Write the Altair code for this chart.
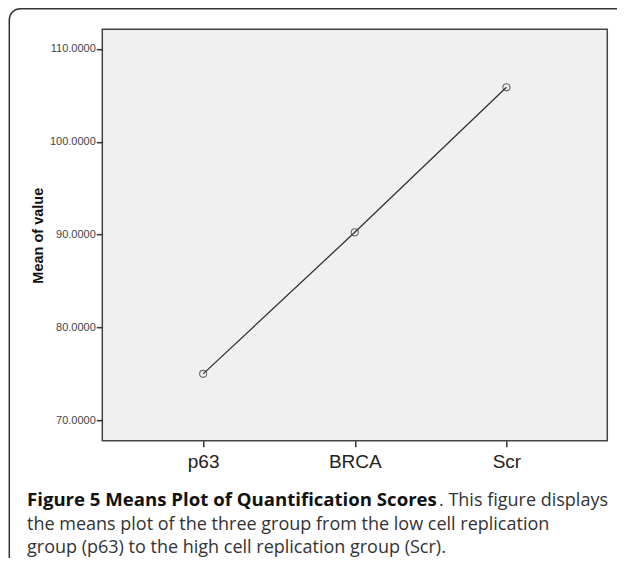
import altair as alt
import pandas as pd

groups = ["p63", "BRCA", "Scr"]
means = [75.0, 90.25, 105.87]
y_ticks = [70, 80, 90, 100, 110]

caption_bold = "Figure 5 Means Plot of Quantification Scores"
caption_line1_rest = ". This figure displays"
caption_line2 = "the means plot of the three group from the low cell replication"
caption_line3 = "group (p63) to the high cell replication group (Scr)."

df = pd.DataFrame({"group": groups, "mean": means})

x_enc = alt.X("group:N", sort=groups,
              scale=alt.Scale(type="point", padding=0.665),
              axis=alt.Axis(title=None, labelAngle=0, labelFont="Arial",
                            labelFontSize=19, labelColor="#222",
                            tickSize=6, tickWidth=1.5, tickColor="#333",
                            domain=False, labelPadding=6, grid=False))
y_enc = alt.Y("mean:Q",
              scale=alt.Scale(domain=[67.8, 112.13], nice=False, zero=False),
              axis=alt.Axis(title="Mean of value", values=y_ticks, format=".4f",
                            labelFont="Arial", labelFontSize=11, labelColor="#444",
                            tickSize=6, tickWidth=1.5, tickColor="#333",
                            labelPadding=1, domain=False, grid=False,
                            titleFont="Arial", titleFontSize=14.5,
                            titleFontWeight="bold", titleColor="#111",
                            titleX=-57, titleY=206))

line = alt.Chart(df).mark_line(color="#333", strokeWidth=1.3).encode(x=x_enc, y=y_enc)
pts = alt.Chart(df).mark_point(shape="circle", filled=False, size=50,
                               color="#333", strokeWidth=1.1).encode(x=x_enc, y=y_enc)

one = alt.Data(values=[{}])

border = alt.Chart(one).mark_rect(fillOpacity=0, stroke="#333", strokeWidth=1.5,
                                  cornerRadius=11).encode(
    x=alt.value(-93), x2=alt.value(700), y=alt.value(-20.4), y2=alt.value(700))

def cap(text, x, y, bold=False, color="#333", size=18.0):
    return alt.Chart(one).mark_text(
        text=text, align="left", baseline="alphabetic", font="Open Sans",
        fontSize=size, fontWeight="bold" if bold else "normal", color=color
    ).encode(x=alt.value(x), y=alt.value(y))

c1 = cap(caption_bold, -75.3, 476.3, bold=True, color="#111", size=18.6)
c1b = cap(caption_line1_rest, 336.7, 476.3)
c2 = cap(caption_line2, -75.3, 500.3)
c3 = cap(caption_line3, -75.3, 524.0)

chart = alt.layer(border, line, pts, c1, c1b, c2, c3).properties(
    width=505, height=411.5,
    autosize=alt.AutoSizeParams(type="none"),
    padding={"left": 94.3, "top": 21.2, "right": 9.7, "bottom": 117.3},
    background="white",
).configure_view(fill="#f0f0f0", stroke="#444", strokeWidth=1.5)

chart.save("out.html", embed_options={"renderer": "svg", "actions": False})
